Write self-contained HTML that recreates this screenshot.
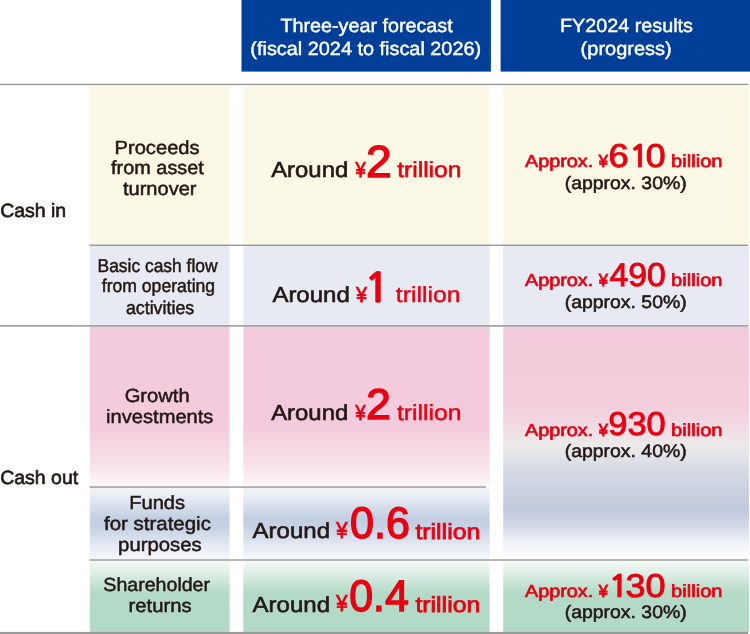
<!DOCTYPE html>
<html lang="en"><head><meta charset="utf-8"><title>Cash allocation: three-year forecast and FY2024 results</title>
<style>
html,body{margin:0;padding:0;background:#fff}
svg{display:block}
text{font-family:'Liberation Sans', Arial, Helvetica, sans-serif;text-rendering:geometricPrecision}
.n1{font-family:NanumGothic, 'Liberation Sans', sans-serif}
</style></head><body>
<svg width="750" height="634" viewBox="0 0 750 634">
<defs>
<linearGradient id="gPink" x1="0" y1="0" x2="0" y2="1">
<stop offset="0" stop-color="#f3cbdc"/><stop offset="0.62" stop-color="#f3cbdc"/><stop offset="0.86" stop-color="#f8e1e9"/><stop offset="1" stop-color="#fdf6f9"/>
</linearGradient>
<linearGradient id="gBlue" x1="0" y1="0" x2="0" y2="1">
<stop offset="0" stop-color="#f2f4f9"/><stop offset="0.12" stop-color="#e9edf5"/><stop offset="0.43" stop-color="#c2cee2"/><stop offset="0.55" stop-color="#c6d1e4"/><stop offset="0.85" stop-color="#e9edf5"/><stop offset="1" stop-color="#f4f6fa"/>
</linearGradient>
<linearGradient id="gGreen" x1="0" y1="0" x2="0" y2="1">
<stop offset="0" stop-color="#f5faf7"/><stop offset="0.19" stop-color="#dcede4"/><stop offset="0.36" stop-color="#c0e0d0"/><stop offset="0.47" stop-color="#b3dac6"/><stop offset="1" stop-color="#b3dac6"/>
</linearGradient>
<linearGradient id="gMix" x1="0" y1="0" x2="0" y2="1">
<stop offset="0" stop-color="#f3cbdc"/><stop offset="0.353" stop-color="#f3cfdd"/><stop offset="0.409" stop-color="#f2d8e2"/><stop offset="0.448" stop-color="#f1dee5"/><stop offset="0.508" stop-color="#eceae9"/><stop offset="0.564" stop-color="#e0e2e8"/><stop offset="0.616" stop-color="#d7dae4"/><stop offset="0.79" stop-color="#c0c8dd"/><stop offset="0.857" stop-color="#d4d9e8"/><stop offset="0.915" stop-color="#eceef5"/><stop offset="0.972" stop-color="#f9fafc"/><stop offset="1" stop-color="#fdfdfe"/>
</linearGradient>
</defs>
<rect width="750" height="634" fill="#fff"/>
<!-- headers -->
<rect x="241.5" y="0" width="249.4" height="71.6" fill="#003f98"/>
<rect x="500.6" y="0" width="249.4" height="71.6" fill="#003f98"/>
<!-- row 1 -->
<rect x="89.8" y="85.9" width="139.8" height="158.6" fill="#fbf8e6"/>
<rect x="243.3" y="85.9" width="246.3" height="158.6" fill="#fbf8e6"/>
<rect x="503.2" y="85.9" width="245.8" height="158.6" fill="#fbf8e6"/>
<!-- row 2 -->
<rect x="89.8" y="246.1" width="139.8" height="78.7" fill="#e7e9f3"/>
<rect x="243.3" y="246.1" width="246.3" height="78.7" fill="#e7e9f3"/>
<rect x="503.2" y="246.1" width="245.8" height="78.7" fill="#e7e9f3"/>
<!-- row 3 -->
<rect x="89.8" y="326.9" width="139.8" height="159.4" fill="url(#gPink)"/>
<rect x="243.3" y="326.9" width="246.3" height="159.4" fill="url(#gPink)"/>
<rect x="503.2" y="326.9" width="245.8" height="232.4" fill="url(#gMix)"/>
<!-- row 4 -->
<rect x="89.8" y="487.6" width="139.8" height="71.7" fill="url(#gBlue)"/>
<rect x="243.3" y="487.6" width="246.3" height="71.7" fill="url(#gBlue)"/>
<!-- row 5 -->
<rect x="89.8" y="560.8" width="139.8" height="72" fill="url(#gGreen)"/>
<rect x="243.3" y="560.8" width="246.3" height="72" fill="url(#gGreen)"/>
<rect x="503.2" y="560.8" width="245.8" height="72" fill="url(#gGreen)"/>
<!-- lines -->
<rect x="0" y="83.75" width="748" height="1.4" fill="#979797"/>
<rect x="89.5" y="244.6" width="658.5" height="1.4" fill="#979797"/>
<rect x="0" y="325.05" width="748" height="1.7" fill="#a0a0a0"/>
<rect x="89.4" y="486.4" width="396.4" height="1.3" fill="#8e8e8e"/>
<rect x="89.4" y="559.3" width="658.6" height="1.4" fill="#9a9a9a"/>
<rect x="0" y="631.9" width="748" height="2.1" fill="#999999"/>

<text><tspan x="280.44" y="31.9" font-size="19.1" fill="#ffffff" stroke="#ffffff" stroke-width="0.45" textLength="172.22" lengthAdjust="spacingAndGlyphs">Three-year forecast</tspan> <tspan x="250.33" y="54.8" font-size="19.1" fill="#ffffff" stroke="#ffffff" stroke-width="0.45" textLength="230.82" lengthAdjust="spacingAndGlyphs">(fiscal 2024 to fiscal 2026)</tspan></text>
<text><tspan x="560.05" y="31.8" font-size="19.1" fill="#ffffff" stroke="#ffffff" stroke-width="0.45" textLength="132.89" lengthAdjust="spacingAndGlyphs">FY2024 results</tspan> <tspan x="580.63" y="54.6" font-size="19.1" fill="#ffffff" stroke="#ffffff" stroke-width="0.45" textLength="91" lengthAdjust="spacingAndGlyphs">(progress)</tspan></text>
<text><tspan x="0.16" y="217" font-size="19.2" fill="#231815" stroke="#231815" stroke-width="0.65" textLength="66.04" lengthAdjust="spacingAndGlyphs">Cash in</tspan></text>
<text><tspan x="0.16" y="484.2" font-size="19.2" fill="#231815" stroke="#231815" stroke-width="0.65" textLength="78.03" lengthAdjust="spacingAndGlyphs">Cash out</tspan></text>
<text><tspan x="114.55" y="153.5" font-size="19" fill="#231815" stroke="#231815" stroke-width="0.5" textLength="85.05" lengthAdjust="spacingAndGlyphs">Proceeds</tspan> <tspan x="111.09" y="174.3" font-size="19" fill="#231815" stroke="#231815" stroke-width="0.5" textLength="92.8" lengthAdjust="spacingAndGlyphs">from asset</tspan> <tspan x="122.98" y="195" font-size="19" fill="#231815" stroke="#231815" stroke-width="0.5" textLength="73.53" lengthAdjust="spacingAndGlyphs">turnover</tspan></text>
<text><tspan x="97.52" y="271.7" font-size="18.5" fill="#231815" stroke="#231815" stroke-width="0.5" textLength="120.01" lengthAdjust="spacingAndGlyphs">Basic cash flow</tspan> <tspan x="101.77" y="292.2" font-size="18.5" fill="#231815" stroke="#231815" stroke-width="0.5" textLength="113.39" lengthAdjust="spacingAndGlyphs">from operating</tspan> <tspan x="125.88" y="313.5" font-size="18.5" fill="#231815" stroke="#231815" stroke-width="0.5" textLength="68.38" lengthAdjust="spacingAndGlyphs">activities</tspan></text>
<text><tspan x="124.67" y="402" font-size="19" fill="#231815" stroke="#231815" stroke-width="0.5" textLength="65.01" lengthAdjust="spacingAndGlyphs">Growth</tspan> <tspan x="106.13" y="422.8" font-size="19" fill="#231815" stroke="#231815" stroke-width="0.5" textLength="107.27" lengthAdjust="spacingAndGlyphs">investments</tspan></text>
<text><tspan x="129.15" y="508.8" font-size="19" fill="#231815" stroke="#231815" stroke-width="0.5" textLength="56.01" lengthAdjust="spacingAndGlyphs">Funds</tspan> <tspan x="103.99" y="530.1" font-size="19" fill="#231815" stroke="#231815" stroke-width="0.5" textLength="106.89" lengthAdjust="spacingAndGlyphs">for strategic</tspan> <tspan x="118.12" y="550.5" font-size="19" fill="#231815" stroke="#231815" stroke-width="0.5" textLength="83.67" lengthAdjust="spacingAndGlyphs">purposes</tspan></text>
<text><tspan x="103.36" y="591.2" font-size="19" fill="#231815" stroke="#231815" stroke-width="0.5" textLength="106.68" lengthAdjust="spacingAndGlyphs">Shareholder</tspan> <tspan x="128.51" y="612.1" font-size="19" fill="#231815" stroke="#231815" stroke-width="0.5" textLength="63.05" lengthAdjust="spacingAndGlyphs">returns</tspan></text>
<text><tspan x="271.2" y="177.4" font-size="21.8" fill="#231815" stroke="#231815" stroke-width="0.6" textLength="77.04" lengthAdjust="spacingAndGlyphs">Around</tspan> <tspan x="355.53" y="177.1" font-size="21.4" fill="#e60012" stroke="#e60012" stroke-width="0.9" textLength="10.05" lengthAdjust="spacingAndGlyphs">¥</tspan><tspan x="366.05" y="176.7" font-size="44.8" fill="#e60012" stroke="#e60012" stroke-width="1.4" textLength="25.73" lengthAdjust="spacingAndGlyphs">2</tspan> <tspan x="397.2" y="177.4" font-size="21.8" fill="#e60012" stroke="#e60012" stroke-width="0.6" textLength="64.29" lengthAdjust="spacingAndGlyphs">trillion</tspan></text>
<text><tspan x="272.4" y="302.2" font-size="21.8" fill="#231815" stroke="#231815" stroke-width="0.6" textLength="77.35" lengthAdjust="spacingAndGlyphs">Around</tspan> <tspan x="356.35" y="301.9" font-size="21.4" fill="#e60012" stroke="#e60012" stroke-width="0.9" textLength="10.62" lengthAdjust="spacingAndGlyphs">¥</tspan><tspan x="363.88" y="302.3" font-size="40.6" font-weight="700" class="n1" fill="#e60012" stroke="#e60012" stroke-width="0.5" textLength="26.56" lengthAdjust="spacingAndGlyphs">1</tspan> <tspan x="395.81" y="302.2" font-size="21.8" fill="#e60012" stroke="#e60012" stroke-width="0.4" textLength="64.6" lengthAdjust="spacingAndGlyphs">trillion</tspan></text>
<text><tspan x="271.2" y="419.9" font-size="21.8" fill="#231815" stroke="#231815" stroke-width="0.6" textLength="77.04" lengthAdjust="spacingAndGlyphs">Around</tspan> <tspan x="355.53" y="419.6" font-size="21.4" fill="#e60012" stroke="#e60012" stroke-width="0.9" textLength="9.96" lengthAdjust="spacingAndGlyphs">¥</tspan><tspan x="366.04" y="419.2" font-size="43" fill="#e60012" stroke="#e60012" stroke-width="1.4" textLength="24.95" lengthAdjust="spacingAndGlyphs">2</tspan> <tspan x="396.93" y="419.9" font-size="21.8" fill="#e60012" stroke="#e60012" stroke-width="0.45" textLength="64.67" lengthAdjust="spacingAndGlyphs">trillion</tspan></text>
<text><tspan x="252.6" y="538.3" font-size="21.8" fill="#231815" stroke="#231815" stroke-width="0.6" textLength="77.45" lengthAdjust="spacingAndGlyphs">Around</tspan> <tspan x="336.34" y="538" font-size="23" fill="#e60012" stroke="#e60012" stroke-width="0.9" textLength="11.21" lengthAdjust="spacingAndGlyphs">¥</tspan><tspan x="350.03" y="537.6" font-size="44.2" fill="#e60012" stroke="#e60012" stroke-width="1.4" textLength="59.88" lengthAdjust="spacingAndGlyphs">0.6</tspan> <tspan x="415.4" y="538.6" font-size="21.8" fill="#e60012" stroke="#e60012" stroke-width="0.75" textLength="64.92" lengthAdjust="spacingAndGlyphs">trillion</tspan></text>
<text><tspan x="252.6" y="611.7" font-size="21.8" fill="#231815" stroke="#231815" stroke-width="0.6" textLength="77.45" lengthAdjust="spacingAndGlyphs">Around</tspan> <tspan x="336.34" y="611.4" font-size="23" fill="#e60012" stroke="#e60012" stroke-width="0.9" textLength="11.21" lengthAdjust="spacingAndGlyphs">¥</tspan><tspan x="349.23" y="611" font-size="44.2" fill="#e60012" stroke="#e60012" stroke-width="1.4" textLength="59.59" lengthAdjust="spacingAndGlyphs">0.4</tspan> <tspan x="415.4" y="612" font-size="21.8" fill="#e60012" stroke="#e60012" stroke-width="0.75" textLength="64.92" lengthAdjust="spacingAndGlyphs">trillion</tspan></text>
<text><tspan x="524.98" y="167.2" font-size="17.5" fill="#e60012" stroke="#e60012" stroke-width="0.65" textLength="68.2" lengthAdjust="spacingAndGlyphs">Approx.</tspan> <tspan x="598.84" y="167.2" font-size="17.6" fill="#e60012" stroke="#e60012" stroke-width="0.9" textLength="9.14" lengthAdjust="spacingAndGlyphs">¥</tspan><tspan x="608.5" y="166.75" font-size="32.9" fill="#e60012" stroke="#e60012" stroke-width="0.95" textLength="20.21" lengthAdjust="spacingAndGlyphs">6</tspan><tspan x="628.42" y="167" font-size="30.6" font-weight="700" class="n1" fill="#e60012" stroke="#e60012" stroke-width="0.35" textLength="21.33" lengthAdjust="spacingAndGlyphs">1</tspan><tspan x="645.84" y="166.75" font-size="32.9" fill="#e60012" stroke="#e60012" stroke-width="0.95" textLength="19.83" lengthAdjust="spacingAndGlyphs">0</tspan> <tspan x="671.08" y="167.2" font-size="17.5" fill="#e60012" stroke="#e60012" stroke-width="0.65" textLength="51.42" lengthAdjust="spacingAndGlyphs">billion</tspan> <tspan x="564.79" y="188.6" font-size="18" fill="#231815" stroke="#231815" stroke-width="0.55" textLength="121.86" lengthAdjust="spacingAndGlyphs">(approx. 30%)</tspan></text>
<text><tspan x="524.98" y="286.2" font-size="17.5" fill="#e60012" stroke="#e60012" stroke-width="0.65" textLength="68.2" lengthAdjust="spacingAndGlyphs">Approx.</tspan> <tspan x="598.84" y="286.2" font-size="17.6" fill="#e60012" stroke="#e60012" stroke-width="0.9" textLength="9.14" lengthAdjust="spacingAndGlyphs">¥</tspan><tspan x="609.47" y="285.75" font-size="32.9" fill="#e60012" stroke="#e60012" stroke-width="0.95" textLength="56.24" lengthAdjust="spacingAndGlyphs">490</tspan> <tspan x="671.08" y="286.2" font-size="17.5" fill="#e60012" stroke="#e60012" stroke-width="0.65" textLength="51.42" lengthAdjust="spacingAndGlyphs">billion</tspan> <tspan x="564.79" y="307.5" font-size="18" fill="#231815" stroke="#231815" stroke-width="0.55" textLength="121.86" lengthAdjust="spacingAndGlyphs">(approx. 50%)</tspan></text>
<text><tspan x="524.98" y="435.8" font-size="17.5" fill="#e60012" stroke="#e60012" stroke-width="0.65" textLength="68.2" lengthAdjust="spacingAndGlyphs">Approx.</tspan> <tspan x="598.84" y="435.8" font-size="17.6" fill="#e60012" stroke="#e60012" stroke-width="0.9" textLength="9.14" lengthAdjust="spacingAndGlyphs">¥</tspan><tspan x="608.35" y="435.35" font-size="32.9" fill="#e60012" stroke="#e60012" stroke-width="0.95" textLength="57.38" lengthAdjust="spacingAndGlyphs">930</tspan> <tspan x="671.08" y="435.8" font-size="17.5" fill="#e60012" stroke="#e60012" stroke-width="0.65" textLength="51.42" lengthAdjust="spacingAndGlyphs">billion</tspan> <tspan x="564.79" y="457" font-size="18" fill="#231815" stroke="#231815" stroke-width="0.55" textLength="121.86" lengthAdjust="spacingAndGlyphs">(approx. 40%)</tspan></text>
<text><tspan x="524.98" y="597.1" font-size="17.5" fill="#e60012" stroke="#e60012" stroke-width="0.65" textLength="68.2" lengthAdjust="spacingAndGlyphs">Approx.</tspan> <tspan x="598.84" y="597.1" font-size="17.6" fill="#e60012" stroke="#e60012" stroke-width="0.9" textLength="9.14" lengthAdjust="spacingAndGlyphs">¥</tspan><tspan x="608.02" y="596.9" font-size="30.6" font-weight="700" class="n1" fill="#e60012" stroke="#e60012" stroke-width="0.35" textLength="21.33" lengthAdjust="spacingAndGlyphs">1</tspan><tspan x="625.61" y="596.65" font-size="32.9" fill="#e60012" stroke="#e60012" stroke-width="0.95" textLength="40.02" lengthAdjust="spacingAndGlyphs">30</tspan> <tspan x="671.08" y="597.1" font-size="17.5" fill="#e60012" stroke="#e60012" stroke-width="0.65" textLength="51.42" lengthAdjust="spacingAndGlyphs">billion</tspan> <tspan x="564.79" y="617.7" font-size="18" fill="#231815" stroke="#231815" stroke-width="0.55" textLength="121.86" lengthAdjust="spacingAndGlyphs">(approx. 30%)</tspan></text>
</svg>
</body></html>
